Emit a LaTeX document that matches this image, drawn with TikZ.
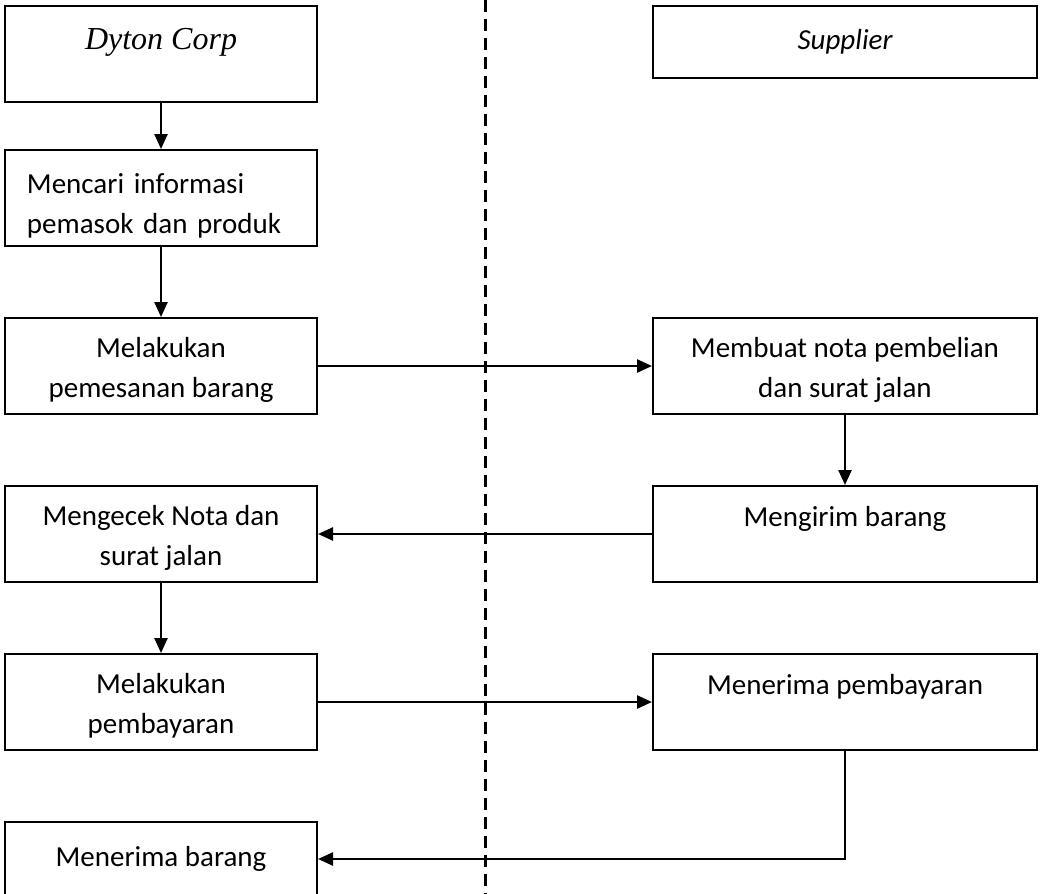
\documentclass[tikz,border=0pt]{standalone}
\usepackage{fontspec}
\setmainfont{Carlito}
\newfontfamily\timesfont{Liberation Serif}
\usetikzlibrary{arrows.meta,positioning}

\begin{document}
\begin{tikzpicture}[
        x=1pt, y=-1pt,
        node distance=70pt and 334pt,
        every node/.style={align=center, font=\fontsize{29}{40}\selectfont},
        lbox/.style={draw, line width=2pt, minimum width=312pt, minimum height=96pt},
        rbox/.style={draw, line width=2pt, minimum width=384pt, minimum height=96pt},
        upper/.style={text height=20pt, text depth=36pt},
        twoline/.style={text height=70pt, text depth=7pt},
        flow/.style={line width=2.5pt, -{Triangle[length=15pt,width=13pt]}}
    ]

    \useasboundingbox (0,0) rectangle (1042,894);

    % Nodes
    \node (dyton) [lbox, text height=22pt, text depth=32pt, font=\timesfont\itshape\fontsize{32}{40}\selectfont] at (161,54) {Dyton Corp};

    \node (cari) [lbox, below=46pt of dyton, text width=268pt, align=left, text height=38pt, text depth=47pt] {Mencari informasi\\pemasok dan produk};

    \node (pesan) [lbox, twoline, below=of cari] {Melakukan\\pemesanan barang};

    \node (cek) [lbox, twoline, below=of pesan] {Mengecek Nota dan\\surat jalan};

    \node (bayar) [lbox, twoline, below=of cek] {Melakukan\\pembayaran};

    \node (terima) [lbox, below=of bayar, minimum height=74pt] {Menerima barang};

    \node (supplier) [rbox, minimum height=72pt, font=\itshape\fontsize{29}{34}\selectfont] at (845,42) {Supplier};

    \node (nota) [rbox, twoline, right=of pesan] {Membuat nota pembelian\\dan surat jalan};

    \node (kirim) [rbox, upper, right=of cek] {Mengirim barang};

    \node (terimabayar) [rbox, upper, right=of bayar] {Menerima pembayaran};

    % Divider
    \coordinate (top) at (485,0);
    \coordinate (bottom) at (485,894);
    \draw[line width=3pt, dash pattern=on 12pt off 7pt] (top) -- (bottom);

    % Edges
    \draw[flow] (dyton) -- (cari);
    \draw[flow] (cari) -- (pesan);
    \draw[flow] (pesan) -- (nota);
    \draw[flow] (nota) -- (kirim);
    \draw[flow] (kirim) -- (cek);
    \draw[flow] (cek) -- (bayar);
    \draw[flow] (bayar) -- (terimabayar);
    \draw[flow] (terimabayar.south) |- (terima);

\end{tikzpicture}
\end{document}
